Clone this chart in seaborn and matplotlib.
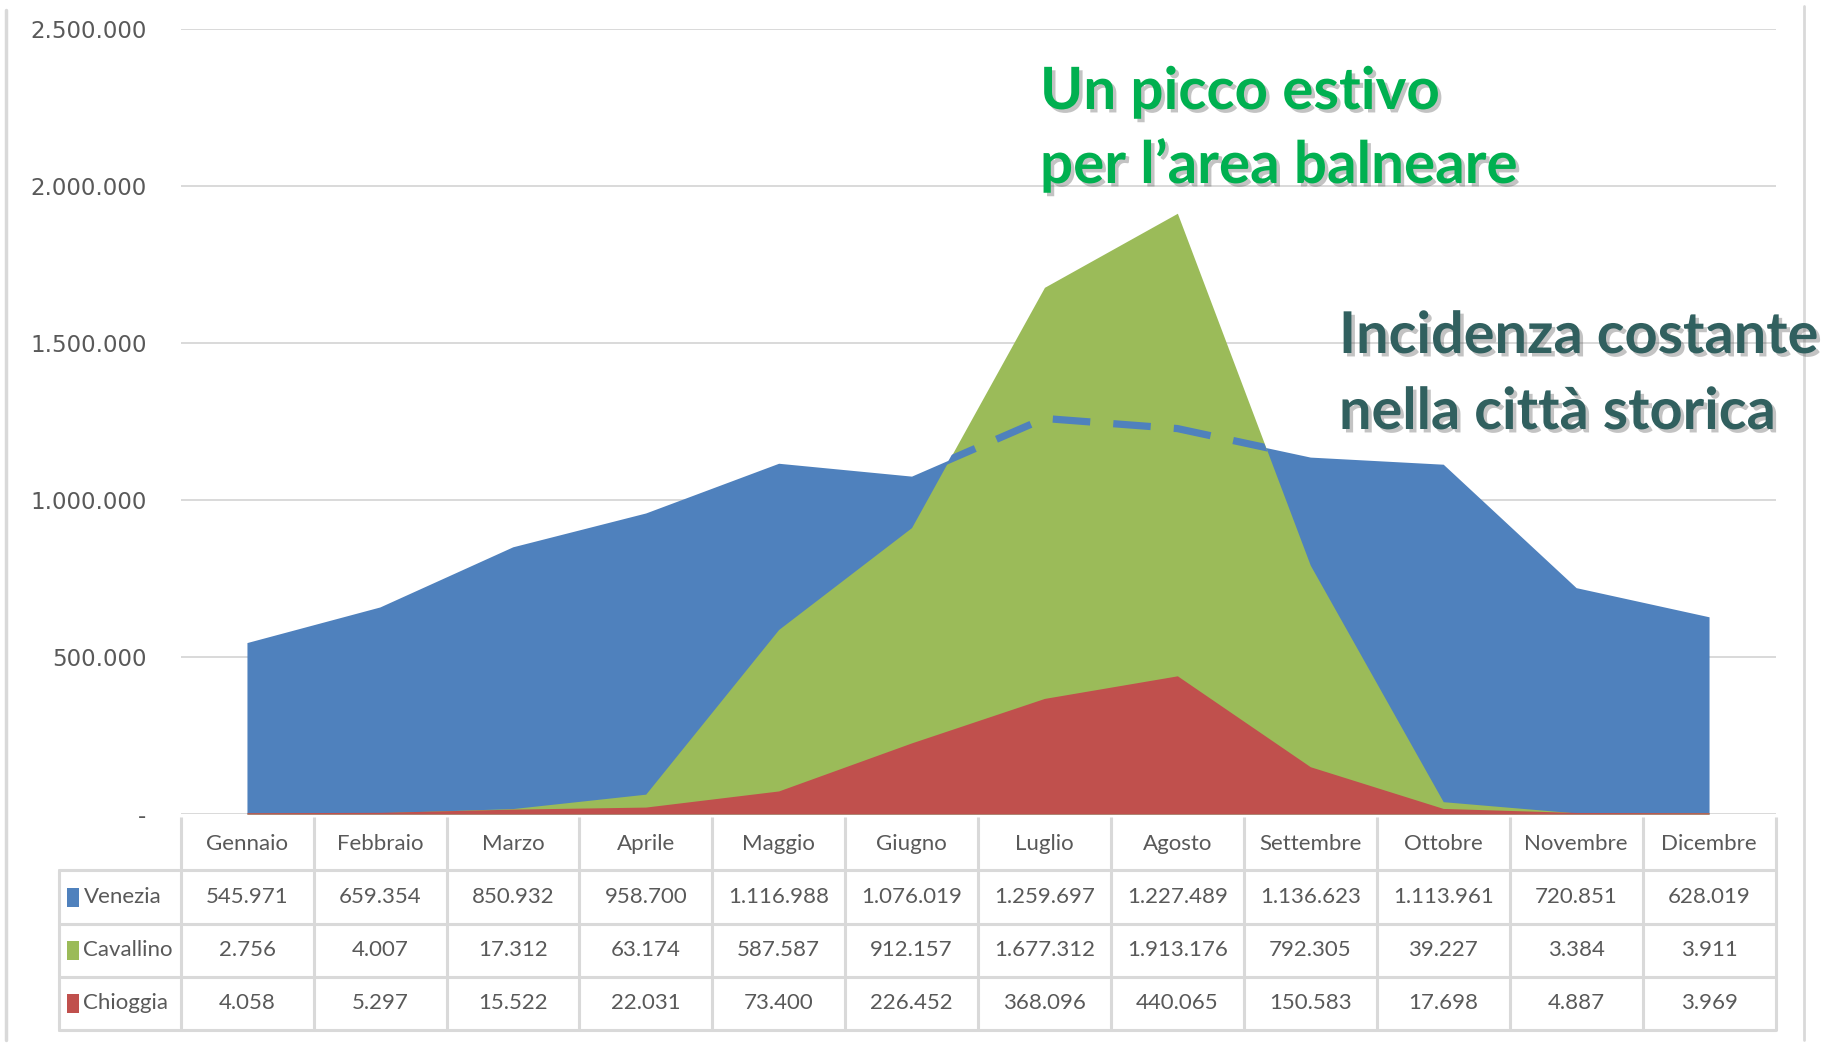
import matplotlib
matplotlib.use("Agg")
import numpy as np
import pandas as pd
import matplotlib.pyplot as plt
import matplotlib.patheffects as pe
from matplotlib.lines import Line2D
from matplotlib.patches import Rectangle
import seaborn as sns

# ---------------- data ----------------
months = ["Gennaio", "Febbraio", "Marzo", "Aprile", "Maggio", "Giugno",
          "Luglio", "Agosto", "Settembre", "Ottobre", "Novembre", "Dicembre"]
venezia = [545971, 659354, 850932, 958700, 1116988, 1076019,
           1259697, 1227489, 1136623, 1113961, 720851, 628019]
cavallino = [2756, 4007, 17312, 63174, 587587, 912157,
             1677312, 1913176, 792305, 39227, 3384, 3911]
chioggia = [4058, 5297, 15522, 22031, 73400, 226452,
            368096, 440065, 150583, 17698, 4887, 3969]
series_names = ["Venezia", "Cavallino", "Chioggia"]
y_ticks = [0, 500000, 1000000, 1500000, 2000000, 2500000]
annot1 = ["Un picco estivo", "per l\u2019area balneare"]
annot2 = ["Incidenza costante", "nella citt\u00e0 storica"]

colors = {"Venezia": "#4F81BD", "Cavallino": "#9BBB59", "Chioggia": "#C0504D"}
values = {"Venezia": venezia, "Cavallino": cavallino, "Chioggia": chioggia}

def fmt(v):
    return "-" if v == 0 else f"{v:,}".replace(",", ".")

# ---------------- style ----------------
sns.set_theme(style="white")
plt.rcParams["font.family"] = ["DejaVu Sans"]
narrow = ["Lato", "DejaVu Sans"]

W, H = 1837, 1044
fig = plt.figure(figsize=(W / 100, H / 100), dpi=100)
fig.patch.set_facecolor("white")

def fx(px):
    return px / W

def fy(py):
    return 1 - py / H

# ---------------- chart ----------------
ax = fig.add_axes([fx(180.5), fy(814), fx(1775.5) - fx(180.5), fy(29) - fy(814)])
x = np.arange(len(months))
df = pd.DataFrame({"idx": x, "Venezia": venezia})

polys = {}
for i, name in enumerate(series_names):
    polys[name] = ax.fill_between(x, values[name], 0, color=colors[name],
                                  lw=0, zorder=2 + i)

sns.lineplot(data=df, x="idx", y="Venezia", ax=ax, color=colors["Venezia"],
             lw=5.2, zorder=6, legend=False)
dline = ax.lines[-1]
dline.set_dashes([5.2, 3.2])
dline.set_solid_capstyle("butt")
gpath = polys["Cavallino"].get_paths()[0]
dline.set_clip_path(gpath, transform=ax.transData)

ax.set_xlim(-0.5, len(months) - 0.5)
ax.set_ylim(0, 2500000)
ax.set_yticks(y_ticks)
ax.set_yticklabels([fmt(v) for v in y_ticks])
ax.set_xticks([])
ax.set_xlabel("")
ax.set_ylabel("")
ax.tick_params(axis="y", length=0, pad=24.5, labelsize=16.5, labelcolor="#595959")
for s in ax.spines.values():
    s.set_visible(False)
ax.grid(axis="y", color="#D9D9D9", lw=1.4)
ax.set_axisbelow(True)
ax.set_facecolor("none")

# ---------------- data table ----------------
tax = fig.add_axes([fx(58.5), fy(1030), fx(1775.5) - fx(58.5), fy(817) - fy(1030)])
x_left = -1.42
tax.set_xlim(x_left, len(months) - 0.5)
tax.set_ylim(4, 0)
tax.axis("off")
gc, glw = "#D9D9D9", 2.2
for i in range(len(months) + 1):
    xv = i - 0.5
    tax.plot([xv, xv], [0, 4], color=gc, lw=glw, clip_on=False, solid_capstyle="butt")
tax.plot([x_left, x_left], [1, 4], color=gc, lw=glw, clip_on=False)
for r in range(1, 5):
    tax.plot([x_left, len(months) - 0.5], [r, r], color=gc, lw=glw, clip_on=False)

tcol = "#595959"
tfs = 16
for i, m in enumerate(months):
    tax.text(i, 0.5, m, ha="center", va="center", fontsize=tfs,
             color=tcol, family=narrow)
for r, name in enumerate(series_names):
    yc = r + 1.5
    for i, v in enumerate(values[name]):
        tax.text(i, yc, fmt(v), ha="center", va="center", fontsize=tfs,
                 color=tcol, family=narrow)
    tax.add_patch(Rectangle((x_left + 8.5 / 132.9, yc - 0.17), 12 / 132.9, 0.36,
                            color=colors[name], lw=0, clip_on=False))
    tax.text(x_left + 25 / 132.9, yc, name, ha="left", va="center",
             fontsize=tfs, color=tcol, family=narrow)

# ---------------- frame lines ----------------
fig.add_artist(Line2D([fx(6), fx(6)], [fy(10), fy(1040)], color="#D9D9D9", lw=2.5))
fig.add_artist(Line2D([fx(1804), fx(1804)], [fy(6), fy(1040)], color="#D9D9D9", lw=2))

# ---------------- annotations ----------------
shadow = [pe.SimplePatchShadow(offset=(2.5, -2.5), alpha=0.35, shadow_rgbFace="#555555"),
          pe.Normal()]
for line, yb in zip(annot1, [109, 183]):
    fig.text(fx(1040), fy(yb), line, ha="left", va="baseline", fontsize=42,
             fontweight="bold", color="#00B050", family=narrow, path_effects=shadow)
for line, yb in zip(annot2, [353, 429]):
    fig.text(fx(1339), fy(yb), line, ha="left", va="baseline", fontsize=41.5,
             fontweight="bold", color="#31605F", family=narrow, path_effects=shadow)

fig.savefig("out.png", dpi=100, facecolor="white")
